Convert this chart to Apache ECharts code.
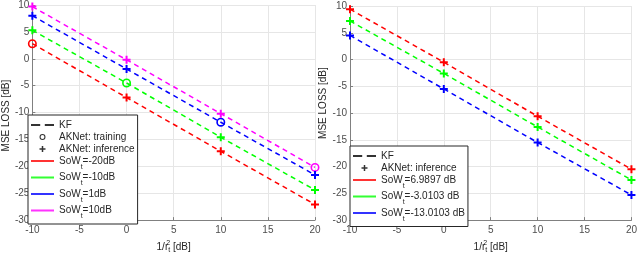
<!DOCTYPE html>
<html><head><meta charset="utf-8">
<script src="https://cdn.jsdelivr.net/npm/echarts@6/dist/echarts.min.js"></script>
<style>html,body{margin:0;padding:0;background:#fff}#c{width:640px;height:259px}</style>
</head><body><div id="c"></div>
<script>
// ---- data ----
const xVals = [-10, 0, 10, 20];
const xTicks = [-10, -5, 0, 5, 10, 15, 20];
const yTicks = [-30, -25, -20, -15, -10, -5, 0, 5, 10];

// left panel: KF curves
const leftKFRed = [2.8, -7.2, -17.2, -27.1];
const leftKFGreen = [5.3, -4.5, -14.6, -24.4];
const leftKFBlue = [8.0, -1.9, -11.8, -21.6];
const leftKFMagenta = [9.7, -0.2, -10.2, -20.2];
// left panel: AKNet training points (circles)
const leftTrainRed = [2.8, null, null, null];
const leftTrainGreen = [null, -4.5, null, null];
const leftTrainBlue = [null, null, -11.8, null];
const leftTrainMagenta = [null, null, null, -20.2];
// left panel: AKNet inference points (plus)
const leftInferRed = [null, -7.2, -17.2, -27.1];
const leftInferGreen = [5.3, null, -14.6, -24.4];
const leftInferBlue = [8.0, -1.9, null, -21.6];
const leftInferMagenta = [9.7, -0.2, -10.2, null];
const leftLabels = ['-20dB', '-10dB', '1dB', '10dB'];

// right panel
const rightKFRed = [9.4, -0.5, -10.6, -20.5];
const rightKFGreen = [7.2, -2.6, -12.6, -22.5];
const rightKFBlue = [4.5, -5.5, -15.5, -25.3];
const rightInferRed = [9.4, -0.5, -10.6, -20.5];
const rightInferGreen = [7.2, -2.6, -12.6, -22.5];
const rightInferBlue = [4.5, -5.5, -15.5, -25.3];
const rightLabels = ['6.9897 dB', '-3.0103 dB', '-13.0103 dB'];

// ---- styling ----
const RED = '#ff0000', GREEN = '#00ff00', BLUE = '#0000ff', MAG = '#ff00ff';
const FONT = 'Liberation Sans';
const PLUS = 'path://M3,0h2v3h3v2h-3v3h-2v-3h-3v-2h3z';
const RING = 'path://M5,0A5,5,0,1,1,5,10A5,5,0,1,1,5,0ZM5,1.8A3.2,3.2,0,1,0,5,8.2A3.2,3.2,0,1,0,5,1.8Z';
const DASH2 = 'path://M0,0h10v2.4h-10zM15,0h10v2.4h-10z';
const SOLID = 'path://M0,0h25v2.2h-25z';

function pts(arr) { return xVals.map((x, i) => arr[i] == null ? null : [x, arr[i]]).filter(p => p); }

const series = [];
function addKF(idx, arr, color) {
  series.push({ type: 'line', xAxisIndex: idx, yAxisIndex: idx, data: pts(arr), symbol: 'none', clip: false,
    lineStyle: { color: color, width: 1.5, type: [5, 4] }, silent: true, z: 2 });
}
function addMarks(idx, arr, color, sym, size) {
  series.push({ type: 'scatter', xAxisIndex: idx, yAxisIndex: idx, data: pts(arr), symbol: sym, symbolSize: size,
    clip: false, itemStyle: { color: color, opacity: 1 }, silent: true, z: 3 });
}
function addLegendDummy(idx, name, color) {
  series.push({ type: 'scatter', name: name, xAxisIndex: idx, yAxisIndex: idx, data: [], itemStyle: { color: color } });
}

addKF(0, leftKFRed, RED); addKF(0, leftKFGreen, GREEN); addKF(0, leftKFBlue, BLUE); addKF(0, leftKFMagenta, MAG);
addMarks(0, leftTrainRed, RED, RING, 9); addMarks(0, leftTrainGreen, GREEN, RING, 9);
addMarks(0, leftTrainBlue, BLUE, RING, 9); addMarks(0, leftTrainMagenta, MAG, RING, 9);
addMarks(0, leftInferRed, RED, PLUS, 8); addMarks(0, leftInferGreen, GREEN, PLUS, 8);
addMarks(0, leftInferBlue, BLUE, PLUS, 8); addMarks(0, leftInferMagenta, MAG, PLUS, 8);
addKF(1, rightKFRed, RED); addKF(1, rightKFGreen, GREEN); addKF(1, rightKFBlue, BLUE);
addMarks(1, rightInferRed, RED, PLUS, 8); addMarks(1, rightInferGreen, GREEN, PLUS, 8); addMarks(1, rightInferBlue, BLUE, PLUS, 8);

addLegendDummy(0, 'KF', '#000'); addLegendDummy(0, 'AKNet: training', '#000'); addLegendDummy(0, 'AKNet: inference', '#000');
const lColors = [RED, GREEN, BLUE, MAG];
leftLabels.forEach((l, i) => addLegendDummy(0, 'L|' + l, lColors[i]));
addLegendDummy(1, 'KF ', '#000'); addLegendDummy(1, 'AKNet: inference ', '#000');
rightLabels.forEach((l, i) => addLegendDummy(1, 'R|' + l, lColors[i]));

function fmt(name) {
  if (name.indexOf('|') > 0) return '{m|SoW}{s|t}{m|=' + name.split('|')[1] + '}';
  return '{p|' + name.trim() + '}';
}
const rich = {
  m: { fontSize: 10, fontFamily: FONT, color: '#262626', lineHeight: 19, verticalAlign: 'middle' },
  s: { fontSize: 7, fontFamily: FONT, color: '#262626', lineHeight: 11, verticalAlign: 'bottom' },
  p: { fontSize: 10, fontFamily: FONT, color: '#262626', lineHeight: 12 }
};
function legendBase(left, top, data) {
  return { show: true, orient: 'vertical', left: left, top: top, itemWidth: 23, itemHeight: 6, itemGap: 2,
    padding: [5, 3, 4, 3], borderColor: '#262626', borderWidth: 1, backgroundColor: '#fff', selectedMode: false,
    formatter: fmt, textStyle: { rich: rich, fontFamily: FONT, fontSize: 10 }, symbolKeepAspect: true, data: data, z: 10 };
}
const leftLegendData = [
  { name: 'KF', icon: DASH2 }, { name: 'AKNet: training', icon: RING }, { name: 'AKNet: inference', icon: PLUS }
].concat(leftLabels.map(l => ({ name: 'L|' + l, icon: SOLID })));
const rightLegendData = [
  { name: 'KF ', icon: DASH2 }, { name: 'AKNet: inference ', icon: PLUS }
].concat(rightLabels.map(l => ({ name: 'R|' + l, icon: SOLID })));

function xAxis(idx) {
  return { type: 'value', gridIndex: idx, min: -10, max: 20, interval: 5,
    name: '{m|1/r}{sup|2}{sub|t}{m| [dB]}', nameLocation: 'middle', nameGap: 14,
    nameTextStyle: { rich: {
      m: { fontSize: 10, fontFamily: FONT, color: '#262626', lineHeight: 14, verticalAlign: 'middle' },
      sup: { fontSize: 7, fontFamily: FONT, color: '#262626', lineHeight: 14, verticalAlign: 'top', width: 0.1 },
      sub: { fontSize: 7, fontFamily: FONT, color: '#262626', lineHeight: 8, verticalAlign: 'bottom' } } },
    axisLine: { show: true, onZero: false, lineStyle: { color: '#808080', width: 1 } },
    axisTick: { show: true, inside: true, length: 3, lineStyle: { color: '#808080' } },
    axisLabel: { fontSize: 10, fontFamily: FONT, color: '#4d4d4d', margin: 5 },
    splitLine: { show: true, lineStyle: { color: '#e6e6e6', width: 1 } } };
}
function yAxis(idx) {
  return { type: 'value', gridIndex: idx, min: -30, max: 10, interval: 5,
    name: 'MSE LOSS [dB]', nameLocation: 'middle', nameGap: idx === 0 ? 17 : 14, nameRotate: 90,
    nameTextStyle: { fontSize: 10, fontFamily: FONT, color: '#262626',
      padding: idx === 0 ? [0, 6, 0, 0] : [0, 0, 0, 20] },
    axisLine: { show: true, onZero: false, lineStyle: { color: '#808080', width: 1 } },
    axisTick: { show: true, inside: true, length: 3, lineStyle: { color: '#808080' } },
    axisLabel: { fontSize: 10, fontFamily: FONT, color: '#4d4d4d', margin: 3 },
    splitLine: { show: true, lineStyle: { color: '#e6e6e6', width: 1 } } };
}

const chart = echarts.init(document.getElementById('c'), null, { renderer: 'canvas' });
chart.setOption({
  animation: false,
  backgroundColor: '#fff',
  grid: [
    { left: 28, right: 325, top: 4, bottom: 33, show: false },
    { left: 350, right: 5, top: 6, bottom: 33, show: false }
  ],
  xAxis: [xAxis(0), xAxis(1)],
  yAxis: [yAxis(0), yAxis(1)],
  legend: [legendBase(28, 115, leftLegendData), legendBase(350, 146, rightLegendData)],
  series: series
});
</script></body></html>
